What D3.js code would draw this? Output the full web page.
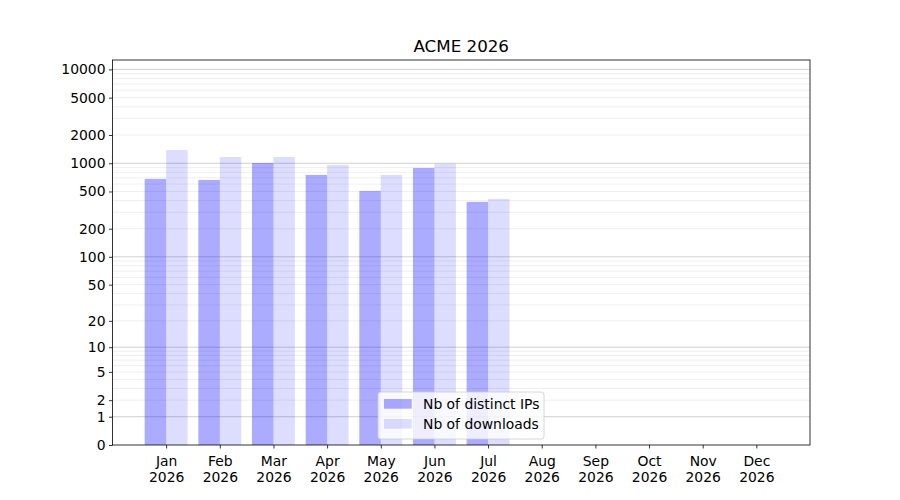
<!DOCTYPE html>
<html>
<head>
<meta charset="utf-8">
<script src="https://cdn.jsdelivr.net/npm/d3@7"></script>
<style>
  body { margin: 0; background: #fff; }
  svg { font-family: "DejaVu Sans", sans-serif; }
</style>
</head>
<body>
<div id="chart"></div>
<script>
var months = ['Jan', 'Feb', 'Mar', 'Apr', 'May', 'Jun', 'Jul', 'Aug', 'Sep', 'Oct', 'Nov', 'Dec'];
var year = '2026';
var distinctIPs = [681, 664, 1006, 751, 507, 891, 387, 0, 0, 0, 0, 0];
var downloads = [1384, 1166, 1166, 958, 751, 990, 417, 0, 0, 0, 0, 0];
var yTicks = [0, 1, 2, 5, 10, 20, 50, 100, 200, 500, 1000, 2000, 5000, 10000];
var seriesNames = ['Nb of distinct IPs', 'Nb of downloads'];

var W = 900, H = 500;
var pad = { left: 112.5, right: 90, top: 60, bottom: 55 };
var fs = 13.9;

var svg = d3.select('#chart').append('svg')
    .attr('width', W)
    .attr('height', H);

var x = d3.scaleLinear().domain([-1, 12]).range([pad.left, W - pad.right]);
var y = d3.scaleSymlog().constant(1).domain([0, 12588]).range([H - pad.bottom, pad.top]);

// grid: minor then major
var minor = [];
[1, 10, 100, 1000].forEach(function (d) {
    for (var m = 2; m <= 9; m++) minor.push(m * d);
});
var major = [1, 10, 100, 1000, 10000];

var grid = svg.append('g');
grid.selectAll('line.minor').data(minor).enter().append('line')
    .attr('class', 'minor')
    .attr('x1', x.range()[0]).attr('x2', x.range()[1])
    .attr('y1', function (d) { return y(d); }).attr('y2', function (d) { return y(d); })
    .attr('stroke', '#ebebeb').attr('stroke-width', 0.8);
grid.selectAll('line.major').data(major).enter().append('line')
    .attr('class', 'major')
    .attr('x1', x.range()[0]).attr('x2', x.range()[1])
    .attr('y1', function (d) { return y(d); }).attr('y2', function (d) { return y(d); })
    .attr('stroke', '#c4c4c4').attr('stroke-width', 0.8);

var bw = 0.4;
var bars = svg.append('g');
bars.selectAll('rect.ips').data(distinctIPs).enter().append('rect')
    .attr('x', function (d, i) { return x(i - bw); })
    .attr('width', x(bw) - x(0))
    .attr('y', function (d) { return y(d); })
    .attr('height', function (d) { return y(0) - y(d); })
    .attr('fill', 'blue').attr('fill-opacity', 0.33);
bars.selectAll('rect.dl').data(downloads).enter().append('rect')
    .attr('x', function (d, i) { return x(i); })
    .attr('width', x(bw) - x(0))
    .attr('y', function (d) { return y(d); })
    .attr('height', function (d) { return y(0) - y(d); })
    .attr('fill', 'blue').attr('fill-opacity', 0.133);

// axes
var yAxis = d3.axisLeft(y).tickValues(yTicks).tickSize(3.5).tickPadding(3.5).tickFormat(d3.format('d'));
var gy = svg.append('g').attr('transform', 'translate(' + pad.left + ',0)').call(yAxis)
    .attr('font-family', null).attr('font-size', null);
gy.select('.domain').remove();
gy.selectAll('text').attr('font-size', fs).attr('fill', '#000');
gy.selectAll('line').attr('stroke-width', 0.8);

var xAxis = d3.axisBottom(x).tickValues(d3.range(12)).tickSize(3.5).tickFormat('');
var gx = svg.append('g').attr('transform', 'translate(0,' + (H - pad.bottom) + ')').call(xAxis)
    .attr('font-family', null).attr('font-size', null);
gx.select('.domain').remove();
gx.selectAll('.tick text').remove();
gx.selectAll('line').attr('stroke-width', 0.8);
gx.selectAll('.tick').each(function (d) {
    var t = d3.select(this).append('text')
        .attr('text-anchor', 'middle')
        .attr('font-size', fs)
        .attr('fill', '#000');
    t.append('tspan').attr('x', 0).attr('y', 21).text(months[d]);
    t.append('tspan').attr('x', 0).attr('y', 37).text(year);
});

svg.append('rect')
    .attr('x', pad.left).attr('y', pad.top)
    .attr('width', x.range()[1] - x.range()[0])
    .attr('height', y.range()[0] - y.range()[1])
    .attr('fill', 'none').attr('stroke', '#000').attr('stroke-width', 0.8);

svg.append('text')
    .attr('x', (x.range()[0] + x.range()[1]) / 2)
    .attr('y', 52)
    .attr('text-anchor', 'middle')
    .attr('font-size', 16.7)
    .text('ACME 2026');

// legend
var lg = svg.append('g').attr('transform', 'translate(378,392)');
lg.append('rect')
    .attr('width', 166).attr('height', 47)
    .attr('rx', 2.8).attr('ry', 2.8)
    .attr('fill', '#fff').attr('fill-opacity', 0.8)
    .attr('stroke', '#cccccc').attr('stroke-width', 0.8);
var opac = [0.33, 0.133];
seriesNames.forEach(function (name, i) {
    var row = lg.append('g').attr('transform', 'translate(6,' + (7 + i * 20) + ')');
    row.append('rect').attr('width', 27.8).attr('height', 9.7)
        .attr('fill', 'blue').attr('fill-opacity', opac[i]);
    row.append('text').attr('x', 39).attr('y', 10)
        .attr('font-size', fs).text(name);
});
</script>
</body>
</html>
